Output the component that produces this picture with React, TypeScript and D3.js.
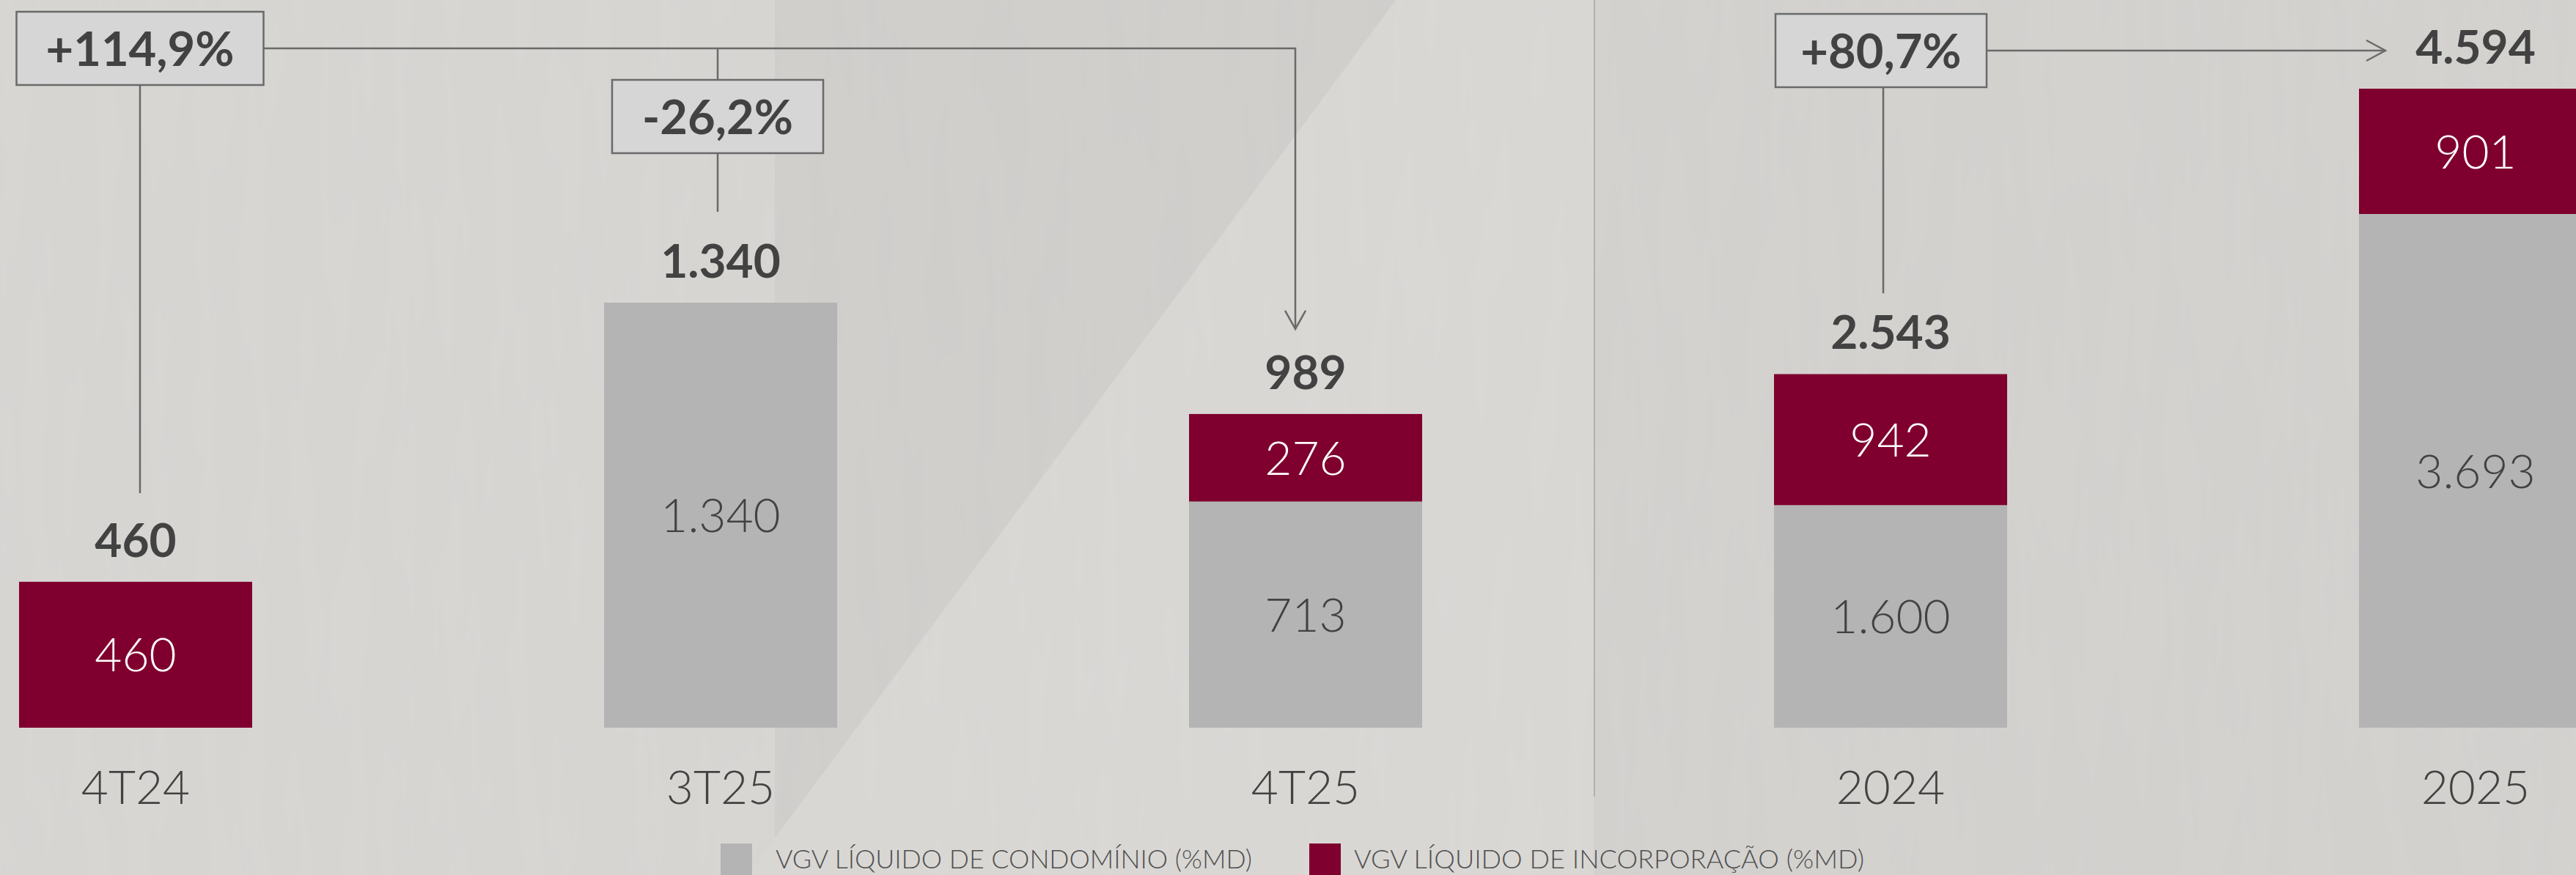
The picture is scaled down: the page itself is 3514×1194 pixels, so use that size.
import React from "react";
import * as d3 from "d3";

const categories = ["4T24", "3T25", "4T25", "2024", "2025"];
const periodGroup = ["q", "q", "q", "y", "y"];
const condominio = [0, 1340, 713, 1600, 3693];
const incorporacao = [460, 0, 276, 942, 901];
const totals = [460, 1340, 989, 2543, 4594];
const variationLabels = ["+114,9%", "-26,2%", "+80,7%"];
const legendLabels = ["VGV LÍQUIDO DE CONDOMÍNIO (%MD)", "VGV LÍQUIDO DE INCORPORAÇÃO (%MD)"];

const W = 3514;
const H = 1194;
const RED = "#7f002e";
const GRAY = "#b4b4b4";
const DARK = "#424242";
const LINE = "#6a6a6a";
const FONT = "Lato, 'Open Sans', sans-serif";

const ptBR = d3.formatLocale({ decimal: ",", thousands: ".", grouping: [3], currency: ["R$", ""] });
const fmt = ptBR.format(",d");

export default function App() {
  const x = d3.scalePoint<string>().domain(categories).range([185, 3377]);
  const barW = 318;
  const maxQ = d3.max(totals.filter((_, i) => periodGroup[i] === "q")) as number;
  const maxY = d3.max(totals.filter((_, i) => periodGroup[i] === "y")) as number;
  const yQ = d3.scaleLinear().domain([0, maxQ]).range([993, 413]);
  const yY = d3.scaleLinear().domain([0, maxY]).range([993, 121]);
  const yOf = (i: number) => (periodGroup[i] === "q" ? yQ : yY);
  const cap = 46;

  const cx = (c: string) => x(c) as number;

  const c0 = cx(categories[0]);
  const c1 = cx(categories[1]);
  const c2 = cx(categories[2]);
  const c3 = cx(categories[3]);
  const c4 = cx(categories[4]);
  const lineY1 = 66;
  const lineY2 = 69;
  const arrowX = c2 - 14;
  const arrowTip = yQ(totals[2]) - 116;
  const arrow2Tip = c4 - 123;

  const box = (cxv: number, top: number, w: number, label: string) => (
    <g>
      <rect x={cxv - w / 2} y={top} width={w} height={100} fill="#d6d6d6" stroke={LINE} strokeWidth={2.5} />
      <text x={cxv} y={top + 74} textAnchor="middle" fontFamily={FONT} fontWeight={700} fontSize={65} fill={DARK}>
        {label}
      </text>
    </g>
  );

  return (
    <svg width={W} height={H} style={{ position: "absolute", left: 0, top: 0 }} xmlns="http://www.w3.org/2000/svg">
      <defs>
        <filter id="paper" x="0" y="0" width="100%" height="100%">
          <feTurbulence type="fractalNoise" baseFrequency="0.03 0.004" numOctaves={3} seed={4} result="n" />
          <feColorMatrix in="n" type="matrix" values="0 0 0 0 0.5  0 0 0 0 0.5  0 0 0 0 0.5  0 0 0 0.045 0" />
        </filter>
      </defs>
      {/* background */}
      <rect x={0} y={0} width={W} height={H} fill="#d4d2cf" />
      <rect x={0} y={0} width={1057} height={H} fill="#d8d6d3" />
      <polygon points={`1057,0 1904,0 1057,1144`} fill="#d1cfcc" />
      <polygon points={`1904,0 2174,0 2174,${H} 1021,${H} 1057,1144`} fill="#dad8d5" />
      <polygon points={`1057,1144 1021,${H} 1057,${H}`} fill="#dad8d5" />
      <rect x={0} y={0} width={W} height={H} filter="url(#paper)" />

      {/* divider */}
      <line x1={2175} x2={2175} y1={0} y2={1087} stroke="#b3b1ae" strokeWidth={2} />

      {/* bars */}
      {categories.map((c, i) => {
        const y = yOf(i);
        const left = cx(c) - barW / 2;
        const g0 = condominio[i];
        const r0 = incorporacao[i];
        return (
          <g key={c}>
            {g0 > 0 && <rect x={left} y={y(g0)} width={barW} height={y(0) - y(g0)} fill={GRAY} />}
            {r0 > 0 && <rect x={left} y={y(g0 + r0)} width={barW} height={y(g0) - y(g0 + r0)} fill={RED} />}
            {g0 > 0 && (
              <text x={cx(c)} y={(y(0) + y(g0)) / 2 + cap / 2} textAnchor="middle" fontFamily={FONT} fontWeight={300} fontSize={64} fill={DARK}>
                {fmt(g0)}
              </text>
            )}
            {r0 > 0 && (
              <text x={cx(c)} y={(y(g0) + y(g0 + r0)) / 2 + cap / 2} textAnchor="middle" fontFamily={FONT} fontWeight={300} fontSize={64} fill="#ffffff">
                {fmt(r0)}
              </text>
            )}
            <text x={cx(c)} y={y(totals[i]) - 34} textAnchor="middle" fontFamily={FONT} fontWeight={700} fontSize={64} fill={DARK}>
              {fmt(totals[i])}
            </text>
            <text x={cx(c)} y={1097} textAnchor="middle" fontFamily={FONT} fontWeight={300} fontSize={64} fill={DARK}>
              {c}
            </text>
          </g>
        );
      })}

      {/* connectors */}
      <g fill="none" stroke={LINE} strokeWidth={2.5}>
        <line x1={c0 + 6} x2={c0 + 6} y1={116} y2={yQ(totals[0]) - 121} />
        <polyline points={`${c0 + 174},${lineY1} ${arrowX},${lineY1} ${arrowX},${arrowTip}`} />
        <polyline points={`${arrowX - 14},${arrowTip - 25} ${arrowX},${arrowTip} ${arrowX + 14},${arrowTip - 25}`} />
        <line x1={c1 - 4} x2={c1 - 4} y1={lineY1} y2={109} />
        <line x1={c1 - 4} x2={c1 - 4} y1={209} y2={yQ(totals[1]) - 124} />
        <line x1={c3 - 10} x2={c3 - 10} y1={119} y2={yY(totals[3]) - 110} />
        <line x1={c3 + 131} x2={arrow2Tip} y1={lineY2} y2={lineY2} />
        <polyline points={`${arrow2Tip - 26},${lineY2 - 14} ${arrow2Tip},${lineY2} ${arrow2Tip - 26},${lineY2 + 14}`} />
      </g>

      {box(c0 + 6, 16, 337, variationLabels[0])}
      {box(c1 - 4, 109, 288, variationLabels[1])}
      {box(c3 - 13, 19, 288, variationLabels[2])}

      {/* legend */}
      <rect x={983} y={1151} width={43} height={43} fill={GRAY} />
      <text x={1058} y={1185} fontFamily={FONT} fontWeight={300} fontSize={36} fill="#505050" textLength={650} lengthAdjust="spacingAndGlyphs">
        {legendLabels[0]}
      </text>
      <rect x={1786} y={1151} width={43} height={43} fill={RED} />
      <text x={1847} y={1185} fontFamily={FONT} fontWeight={300} fontSize={36} fill="#505050" textLength={696} lengthAdjust="spacingAndGlyphs">
        {legendLabels[1]}
      </text>
    </svg>
  );
}
